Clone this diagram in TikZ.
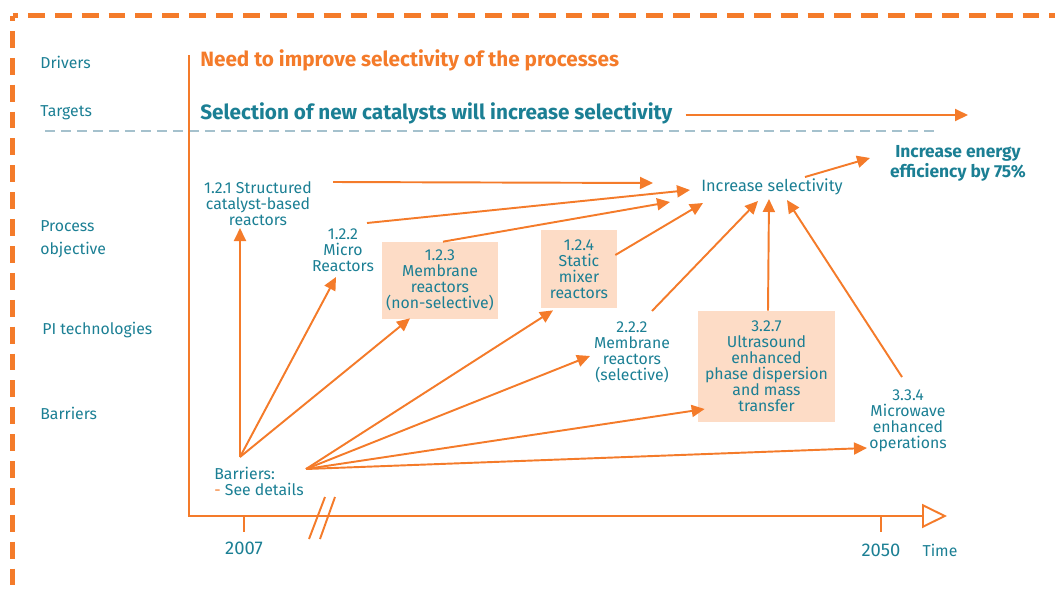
\documentclass[tikz,border=0pt]{standalone}
\usepackage{fontspec}
\setmainfont{Fira Sans}
\usepackage{tikz}
\usetikzlibrary{arrows.meta,calc,positioning}
\definecolor{orangeline}{HTML}{F47B2A}
\definecolor{tealtext}{HTML}{1B7F94}
\definecolor{peach}{HTML}{FDDCC6}
\definecolor{greyblue}{HTML}{A5C1CD}
\tikzset{
    >={Triangle[length=0.26cm,width=0.24cm]},
    tekst/.style={
           text=tealtext,
           inner sep=0pt,
           align=center,
           font=\fontsize{9}{9.1}\selectfont},
    rubrik/.style={
           text=tealtext,
           inner sep=0pt,
           anchor=west,
           align=left,
           font=\fontsize{9}{13}\selectfont},
    overskrift/.style={
           inner sep=0pt,
           anchor=west,
           font=\fontsize{11.8}{14}\selectfont\bfseries},
    aar/.style={
           tekst,
           font=\fontsize{10.5}{12}\selectfont},
    kasse/.style={
           tekst,
           fill=peach},
    pil/.style={
           ->,
           draw=orangeline,
           line width=1.1pt},
    akse/.style={
           draw=orangeline,
           line width=1.1pt}
}

\begin{document}
\begin{tikzpicture}[x=0.02cm, y=-0.02cm]
        \useasboundingbox (0,0) rectangle (1055,589);

        % ramme og skillelinje
        \draw[orangeline, line width=2.3pt, dash pattern=on 9.6pt off 5.7pt, dash phase=6.5pt] (12.5,15.5) -- (1070,15.5);
        \draw[orangeline, line width=2.3pt, dash pattern=on 9.6pt off 5.7pt, dash phase=6.5pt] (12.5,15.5) -- (12.5,600);
        \draw[greyblue, line width=1.5pt, dash pattern=on 5.7pt off 3.4pt] (45,131) -- (935,131);

        % rubrikker til venstre
        \node[rubrik] (drv) at (40,62) {Drivers};
        \node[rubrik] (tgt) at (40,113) {Targets};
        \node[rubrik] (pobj) at (40,239) {Process\\objective};
        \node[rubrik] (pit) at (42,330) {PI technologies};
        \node[rubrik] (bar) at (40,413) {Barriers};

        % akser
        \coordinate (topp) at (189,55);
        \coordinate (origo) at (189,516);
        \coordinate (slut) at (947,516);
        \draw[akse, -{Triangle[open,length=0.5cm,width=0.48cm]}] (topp) -- (origo) -- (slut);
        \coordinate (t2007) at (244,532);
        \coordinate (t2050) at (881,532);
        \draw[akse] (244,516) -- (t2007);
        \draw[akse] (881,516) -- (t2050);
        \draw[akse] (325,497) -- (309,539);
        \draw[akse] (335,497) -- (320,539);
        \node[aar, below=0.2cm of t2007] (y2007) {2007};
        \node[aar, below=0.24cm of t2050] (y2050) {2050};
        \node[tekst] (time) at (940,550) {Time};

        % drivere og maal
        \node[overskrift, text=orangeline] (need) at (200,60) {Need to improve selectivity of the processes};
        \node[overskrift, text=tealtext] (catsel) at (200,113) {Selection of new catalysts will increase selectivity};
        \coordinate (tgtend) at (968,115);
        \draw[pil] ($(catsel.east)+(13,2)$) -- (tgtend);

        % maal og teknologier
        \node[tekst, font=\fontsize{9.9}{11.3}\selectfont\bfseries] (energy) at (958,163) {Increase energy\\efficiency by 75\%};
        \node[tekst, font=\fontsize{9.3}{10}\selectfont] (incsel) at (772,187) {Increase selectivity};
        \node[tekst] (n121) at (258,204) {1.2.1 Structured\\catalyst-based\\reactors};
        \node[tekst] (n122) at (343,250) {1.2.2\\Micro\\Reactors};
        \node[kasse, minimum width=2.32cm, minimum height=1.54cm] (n123) at (440,280.5) {1.2.3\\Membrane\\reactors\\(non-selective)};
        \node[kasse, minimum width=1.52cm, minimum height=1.56cm] (n124) at (579,269) {1.2.4\\Static\\mixer\\reactors};
        \node[tekst] (n222) at (632,352) {2.2.2\\Membrane\\reactors\\(selective)};
        \node[kasse, minimum width=2.74cm, minimum height=2.22cm] (n327) at (766.5,366.5) {3.2.7\\Ultrasound\\enhanced\\phase dispersion\\and mass\\transfer};
        \node[tekst] (n334) at (908,421) {3.3.4\\Microwave\\enhanced\\operations};
        \node[tekst, align=left] (barr) at (259,481) {Barriers:\\\textcolor{orangeline}{-} See details};

        \draw[pil] ($(n121)+(75,-22)$) -- ($(incsel)+(-119,-4)$);
        \draw[pil] ($(n122)+(24,-27)$) -- ($(incsel)+(-82,3)$);
        \draw[pil] ($(n123.north)+(3,0)$) -- ($(incsel)+(-102,15)$);
        \draw[pil] ($(n124.east)+(-2,-14)$) -- ($(incsel)+(-69,16)$);
        \draw[pil] ($(n222)+(20,-41)$) -- ($(incsel)+(-14,14)$);
        \draw[pil] ($(n327.north)+(1.5,0)$) -- ($(incsel)+(-3,12)$);
        \draw[pil] ($(n334)+(-6,-44)$) -- ($(incsel)+(15,13)$);
        \draw[pil] ($(incsel)+(33,-10)$) -- ($(energy)+(-88,-5)$);

        % barrierer
        \coordinate (ba) at ($(barr)+(-19,-24)$);
        \coordinate (bb) at ($(barr)+(47,-12)$);
        \draw[pil] (ba) -- ($(n121)+(-18,24)$);
        \draw[pil] (ba) -- ($(n122)+(-7,27)$);
        \draw[pil] (ba) -- ($(n123.south)+(-30,-1)$);
        \draw[pil] (bb) -- ($(n124.south)+(-26,2)$);
        \draw[pil] (bb) -- ($(n222)+(-42,4)$);
        \draw[pil] (bb) -- ($(n327.west)+(7,42.5)$);
        \draw[pil] (bb) -- ($(n334)+(-41,27)$);
    \end{tikzpicture}
\end{document}
